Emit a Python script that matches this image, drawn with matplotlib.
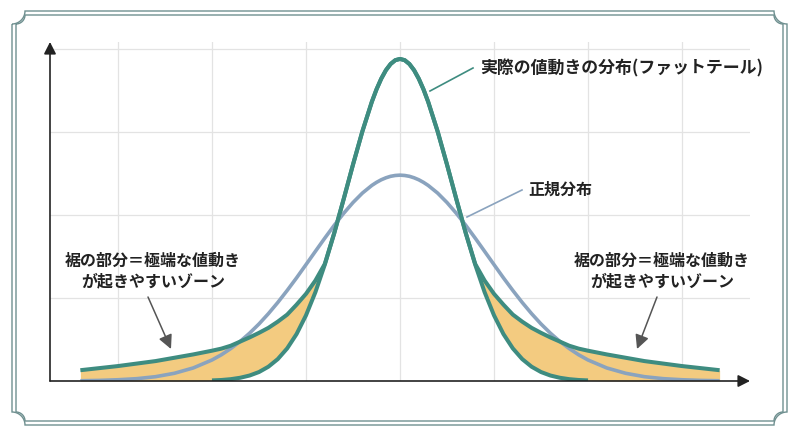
import numpy as np
import matplotlib.pyplot as plt
from matplotlib.path import Path
from matplotlib.patches import PathPatch
from matplotlib.lines import Line2D

plt.rcParams['font.family'] = ['Noto Sans CJK JP', 'DejaVu Sans']

# x positions, one grid step = 1 unit, centre of the distribution at 0
x = [-3.4, -3.2, -3.0, -2.8, -2.6, -2.4, -2.2, -2.0, -1.9, -1.8, -1.7, -1.6, -1.5, -1.4,
     -1.3, -1.2, -1.1, -1.0, -0.9, -0.8, -0.7, -0.6, -0.5, -0.4, -0.3, -0.25, -0.2, -0.15,
     -0.1, -0.05, 0.0, 0.05, 0.1, 0.15, 0.2, 0.25, 0.3, 0.4, 0.5, 0.6, 0.7, 0.8,
     0.9, 1.0, 1.1, 1.2, 1.3, 1.4, 1.5, 1.6, 1.7, 1.8, 1.9, 2.0, 2.2, 2.4, 2.6, 2.8, 3.0, 3.2, 3.4]

# normal distribution (grey-blue)
normal = [0.003, 0.007, 0.015, 0.028, 0.052, 0.093, 0.157, 0.253, 0.316, 0.391, 0.477, 0.576, 0.687, 0.811,
          0.946, 1.091, 1.243, 1.402, 1.562, 1.721, 1.875, 2.019, 2.150, 2.264, 2.356, 2.393, 2.424, 2.448,
          2.466, 2.476, 2.480, 2.476, 2.466, 2.448, 2.424, 2.393, 2.356, 2.264, 2.150, 2.019, 1.875, 1.721,
          1.562, 1.402, 1.243, 1.091, 0.946, 0.811, 0.687, 0.576, 0.477, 0.391, 0.316, 0.253, 0.157, 0.093,
          0.052, 0.028, 0.015, 0.007, 0.003]

# tall narrow peak of the actual distribution (lower edge of the tail zone)
peak = [0.0, 0.0, 0.0, 0.0, 0.0, 0.0, 0.002, 0.007, 0.012, 0.022, 0.039, 0.066, 0.108, 0.172,
        0.264, 0.393, 0.566, 0.791, 1.070, 1.402, 1.780, 2.188, 2.607, 3.008, 3.362, 3.513, 3.641, 3.744,
        3.819, 3.865, 3.880, 3.865, 3.819, 3.744, 3.641, 3.513, 3.362, 3.008, 2.607, 2.188, 1.780, 1.402,
        1.070, 0.791, 0.566, 0.393, 0.264, 0.172, 0.108, 0.066, 0.039, 0.022, 0.012, 0.007, 0.002, 0.0,
        0.0, 0.0, 0.0, 0.0, 0.0]

# actual distribution with fat tails (upper edge)
fat = [0.130, 0.155, 0.180, 0.210, 0.240, 0.280, 0.320, 0.365, 0.390, 0.425, 0.475, 0.525, 0.580, 0.640,
       0.715, 0.800, 0.920, 1.050, 1.210, 1.410, 1.780, 2.188, 2.607, 3.008, 3.362, 3.513, 3.641, 3.744,
       3.819, 3.865, 3.880, 3.865, 3.819, 3.744, 3.641, 3.513, 3.362, 3.008, 2.607, 2.188, 1.780, 1.410,
       1.210, 1.050, 0.920, 0.800, 0.715, 0.640, 0.580, 0.525, 0.475, 0.425, 0.390, 0.365, 0.320, 0.280,
       0.240, 0.210, 0.180, 0.155, 0.130]

fat_label = '実際の値動きの分布(ファットテール)'
normal_label = '正規分布'
tail_label = '裾の部分＝極端な値動き\nが起きやすいゾーン'

green = '#3E8C80'
blue = '#8AA3BE'
orange = '#F3CB80'
frame_col = '#6E8F8F'
W, H = 800, 436

def fpos(px, py):
    # pixel position (from top-left) -> figure fraction
    return (px / W, 1 - py / H)

fig = plt.figure(figsize=(8, 4.36), dpi=100)

# decorative double frame with notched corners
bg = fig.add_axes([0, 0, 1, 1])
bg.set_xlim(0, W)
bg.set_ylim(H, 0)
bg.axis('off')

def notched_frame(l, t, r, b, rad):
    pts = []
    a = np.linspace(0, np.pi / 2, 12)
    # arcs centred on each corner
    pts += [(l + rad * np.sin(v), t + rad * np.cos(v)) for v in a]
    pts += [(r - rad * np.cos(v), t + rad * np.sin(v)) for v in a]
    pts += [(r - rad * np.sin(v), b - rad * np.cos(v)) for v in a]
    pts += [(l + rad * np.cos(v), b - rad * np.sin(v)) for v in a]
    pts.append(pts[0])
    return Path(pts)

bg.add_patch(PathPatch(notched_frame(12, 11, 787, 425, 13), fill=False, ec=frame_col, lw=1.0))
bg.add_patch(PathPatch(notched_frame(16, 15, 783, 421, 9), fill=False, ec=frame_col, lw=1.0))

# main chart
ax = fig.add_axes([50 / W, 55 / H, 700 / W, 339 / H])
ax.patch.set_alpha(0)
ax.set_xlim(-3.723, 3.723)
ax.set_ylim(0, 4.084)
for s in ax.spines.values():
    s.set_visible(False)
ax.set_xticks(range(-3, 4))
ax.set_yticks([1, 2, 3, 4])
ax.tick_params(length=0, labelbottom=False, labelleft=False)
ax.grid(True, color='#E3E3E3', lw=0.9)
ax.set_axisbelow(True)

xa = np.array(x)
pk = np.array(peak)
ax.fill_between(xa, pk, fat, color=orange, lw=0, zorder=2)
inner = np.abs(xa) <= 2.0
line_kw = dict(solid_capstyle='butt', solid_joinstyle='round')
ax.plot(xa[inner], pk[inner], color=green, lw=2.9, zorder=3, **line_kw)
ax.plot(xa, normal, color=blue, lw=2.6, zorder=4, **line_kw)
ax.plot(xa, fat, color=green, lw=2.9, zorder=5, **line_kw)

# axes with arrow heads
arrow = dict(arrowstyle='-|>,head_length=0.55,head_width=0.28', color='#222222',
             lw=1.2, mutation_scale=13, shrinkA=0, shrinkB=0)
ax.annotate('', xy=(1, 0), xytext=(0, 0), xycoords='axes fraction', arrowprops=arrow,
            annotation_clip=False, zorder=6)
ax.annotate('', xy=(0, 1), xytext=(0, 0), xycoords='axes fraction', arrowprops=arrow,
            annotation_clip=False, zorder=6)

# labels and pointers
fig.add_artist(Line2D(*zip(fpos(430, 91), fpos(473, 68)), transform=fig.transFigure,
                      color=green, lw=1.2))
fig.text(*fpos(480, 68), fat_label, ha='left', va='center', fontsize=12.2,
         fontweight='bold', color='#222222')

fig.add_artist(Line2D(*zip(fpos(467, 217), fpos(522, 190)), transform=fig.transFigure,
                      color=blue, lw=1.2))
fig.text(*fpos(528, 190), normal_label, ha='left', va='center', fontsize=11.5,
         fontweight='bold', color='#222222')

for cx, tail_xy, tip_xy in [(153, (148, 297), (171, 349)), (662, (657, 297), (637, 349))]:
    fig.text(*fpos(cx, 271), tail_label, ha='center', va='center', fontsize=11.5,
             fontweight='bold', color='#222222', linespacing=1.3, multialignment='center')
    ax.annotate('', xy=fpos(*tip_xy), xytext=fpos(*tail_xy), xycoords='figure fraction',
                arrowprops=dict(arrowstyle='-|>,head_length=0.7,head_width=0.35', color='#555555',
                                lw=1.1, mutation_scale=12, shrinkA=0, shrinkB=0),
                annotation_clip=False)

fig.savefig('out.png', dpi=100)
